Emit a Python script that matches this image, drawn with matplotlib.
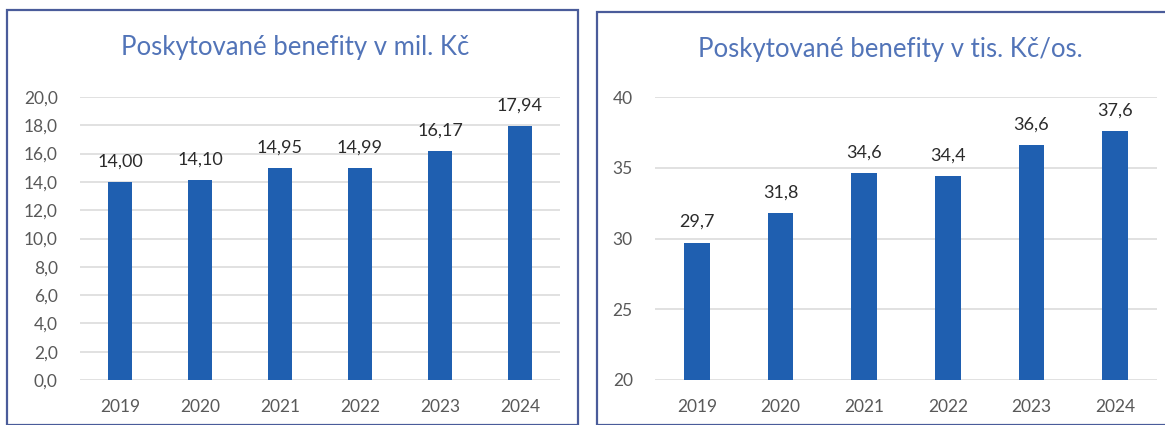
"""Two bar charts: provided benefits in mil. Kč and in tis. Kč per person."""

import matplotlib

matplotlib.use("Agg")
import matplotlib.pyplot as plt
from matplotlib.patches import Rectangle

years = ["2019", "2020", "2021", "2022", "2023", "2024"]
benefits_total = [14.00, 14.10, 14.95, 14.99, 16.17, 17.94]
benefits_per_person = [29.7, 31.8, 34.6, 34.4, 36.6, 37.6]

title_left = "Poskytované benefity v mil. Kč"
title_right = "Poskytované benefity v tis. Kč/os."

BAR = "#1f5fb0"
TITLE = "#5274b8"
TICK = "#595959"
GRID = "#dcdcdc"
FRAME = "#4a5c9a"

plt.rcParams["font.family"] = ["Lato", "DejaVu Sans"]

W, H = 1165, 425
fig = plt.figure(figsize=(W / 100, H / 100), dpi=100)


def px(x0, y0, x1, y1):
    """Pixel box (top-left origin) -> figure fraction rect."""
    return [x0 / W, 1 - y1 / H, (x1 - x0) / W, (y1 - y0) / H]


def fmt_comma(v, nd):
    return f"{v:.{nd}f}".replace(".", ",")


# panel frames
for x0, y0, x1 in [(7, 10, 578), (597, 12, 1170)]:
    fig.patches.append(Rectangle((x0 / W, 0), (x1 - x0) / W, 1 - y0 / H,
                                 transform=fig.transFigure, fill=False,
                                 edgecolor=FRAME, linewidth=1.6))

fig.text(295 / W, 1 - 48 / H, title_left, ha="center", va="center",
         fontsize=18.5, color=TITLE)
fig.text(890 / W, 1 - 50 / H, title_right, ha="center", va="center",
         fontsize=18.5, color=TITLE)


def draw(ax, values, ymin, ymax, step, nd_tick, nd_label):
    x = list(range(len(years)))
    ax.bar(x, [v - ymin for v in values], bottom=ymin, width=0.31, color=BAR,
           zorder=3)
    for xi, v in zip(x, values):
        ax.text(xi, v + (ymax - ymin) * 0.045, fmt_comma(v, nd_label),
                ha="center", va="bottom", fontsize=13, color="#2b2b2b")
    ax.set_xlim(-0.5, len(years) - 0.5)
    ax.set_ylim(ymin, ymax)
    ticks = []
    t = ymin
    while t <= ymax + 1e-9:
        ticks.append(t)
        t += step
    ax.set_yticks(ticks)
    ax.set_yticklabels([fmt_comma(t, nd_tick) for t in ticks])
    ax.set_xticks(x)
    ax.set_xticklabels(years)
    ax.tick_params(length=0, colors=TICK, labelsize=12.5)
    ax.tick_params(axis="x", pad=14)
    ax.tick_params(axis="y", pad=16)
    ax.grid(True, axis="y", color=GRID, linewidth=1.2, zorder=0)
    for s in ax.spines.values():
        s.set_visible(False)


ax1 = fig.add_axes(px(80, 97, 560, 380))
draw(ax1, benefits_total, 0, 20, 2, 1, 2)

ax2 = fig.add_axes(px(655, 97, 1157, 380))
draw(ax2, benefits_per_person, 20, 40, 5, 0, 1)

fig.savefig("out.png", dpi=100)
plt.close(fig)
